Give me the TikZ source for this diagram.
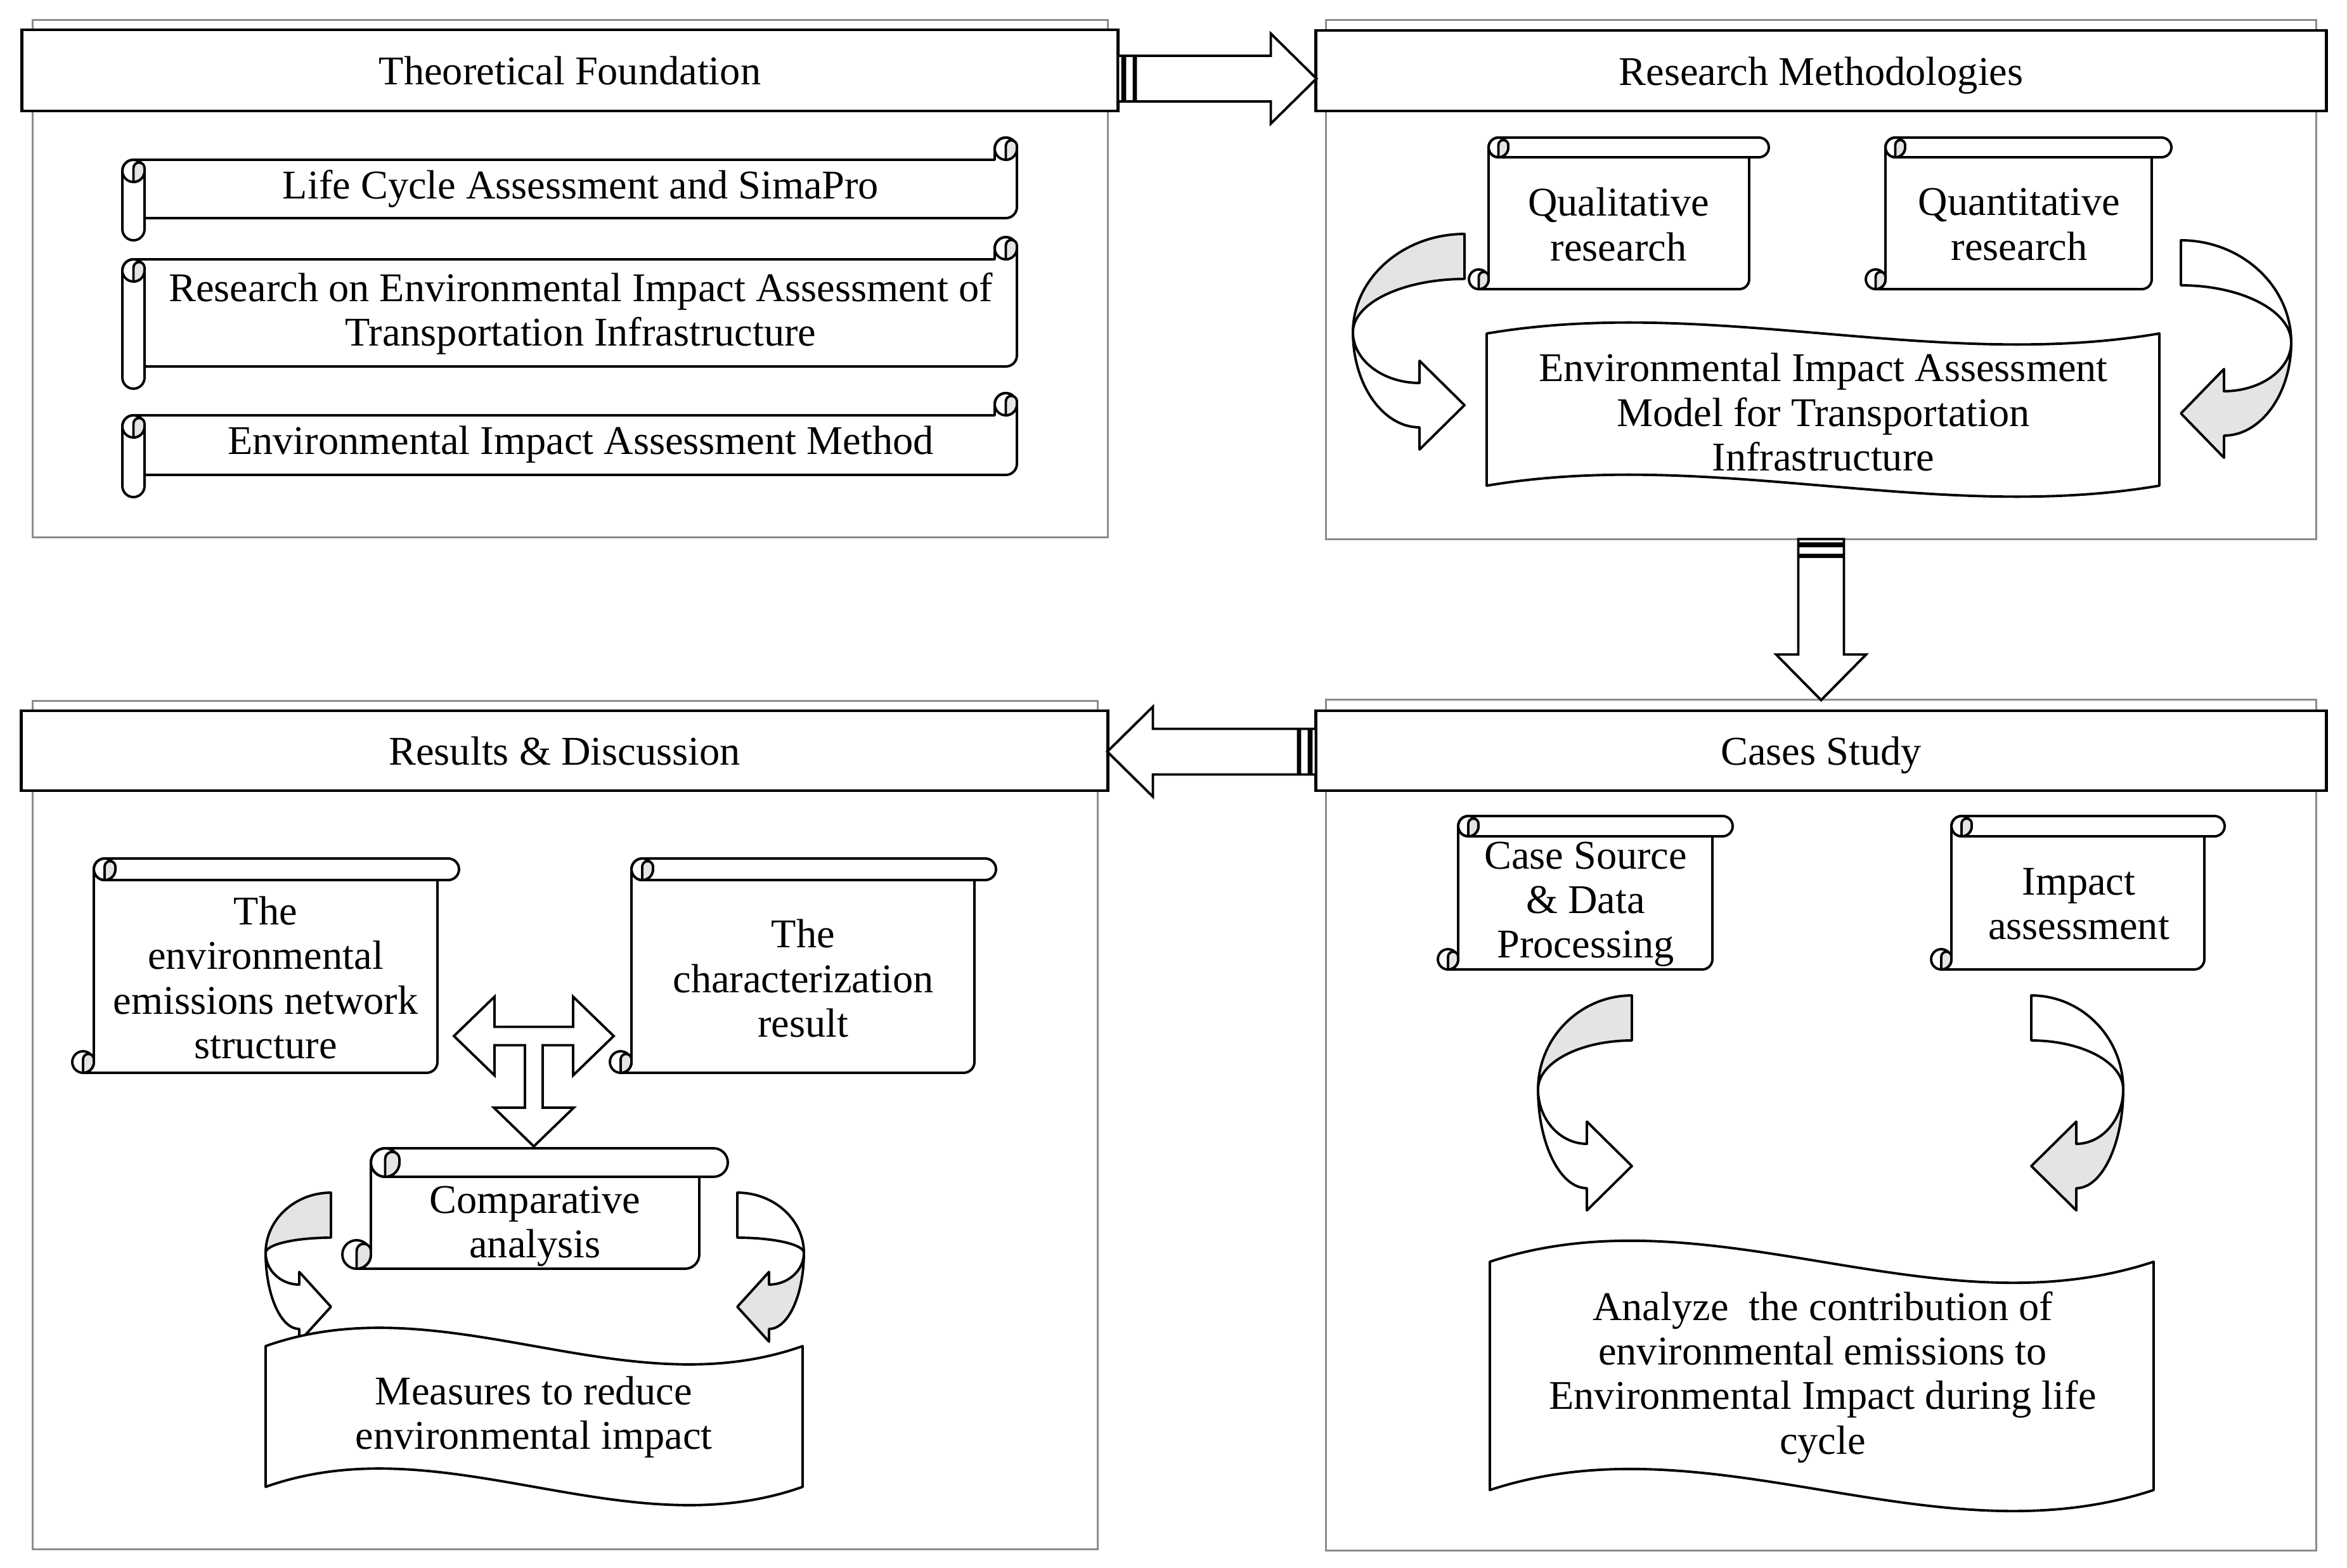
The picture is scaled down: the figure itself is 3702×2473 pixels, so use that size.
\documentclass[tikz,border=0pt]{standalone}
\usepackage{fontspec}
\setmainfont{Liberation Serif}
\usepackage{tikz}
\usetikzlibrary{calc}
\definecolor{curlgray}{HTML}{E3E5E5}
\definecolor{panelgray}{HTML}{8C8C8C}
% small rolled end of a scroll
\newcommand{\curl}[3]{%
  \draw[shapeline] ({#1},{#2}) circle[radius=#3/2];
  \filldraw[shapeline,fill=curlgray] ({#1},{#2+#3/2}) -- ({#1},{#2-#3/8})
    arc[start angle=180,end angle=360,radius=#3/4] -- ({#1+#3/2},{#2})
    arc[start angle=0,end angle=90,radius=#3/2] -- cycle;}
% horizontal scroll: x1,y1,x2,y2,roll
\newcommand{\hscroll}[5]{%
  \filldraw[shapeline,fill=white] ({#1+#5/2},{#2+#5}) -- ({#3-#5},{#2+#5}) -- ({#3-#5},{#2+#5/2})
    arc[start angle=180,end angle=360,radius=#5/2] -- (#3,{#4-1.5*#5})
    arc[start angle=0,end angle=90,radius=#5/2] -- ({#1+#5},{#4-#5}) -- cycle;
  \curl{#3-#5/2}{#2+#5/2}{#5}
  \filldraw[shapeline,fill=white] (#1,{#2+1.5*#5}) arc[start angle=180,end angle=360,radius=#5/2]
    -- ({#1+#5},{#4-#5/2}) arc[start angle=0,end angle=180,radius=#5/2] -- cycle;
  \curl{#1+#5/2}{#2+1.5*#5}{#5}}
% vertical scroll: x1,y1,x2,y2,roll
\newcommand{\vscroll}[5]{%
  \filldraw[shapeline,fill=white] ({#1+#5},{#2+#5/2}) -- ({#1+#5},{#4-#5/2})
    arc[start angle=0,end angle=90,radius=#5/2] -- ({#3-1.5*#5},#4)
    arc[start angle=90,end angle=0,radius=#5/2] -- ({#3-#5},{#2+#5}) -- cycle;
  \filldraw[shapeline,fill=white] ({#1+1.5*#5},#2) -- ({#3-#5/2},#2)
    arc[start angle=270,end angle=450,radius=#5/2] -- ({#1+1.5*#5},{#2+#5})
    arc[start angle=90,end angle=270,radius=#5/2] -- cycle;
  \curl{#1+1.5*#5}{#2+#5/2}{#5}
  \curl{#1+#5/2}{#4-#5/2}{#5}}
% wavy box: x1,top,x2,bottom,swing
\newcommand{\wavebox}[5]{%
  \filldraw[shapeline,fill=white] (#1,#2) .. controls ({(2*#1+#3)/3},{#2-#5}) and ({(#1+2*#3)/3},{#2+#5}) .. (#3,#2)
    -- (#3,#4) .. controls ({(#1+2*#3)/3},{#4+#5}) and ({(2*#1+#3)/3},{#4-#5}) .. (#1,#4) -- cycle;}
% curved ribbon arrow: x0,y0,dir,width,waist,head base,tip y,head half
\newcommand{\curvarrow}[8]{%
  \ifnum#3>0 \def\upfill{curlgray}\def\lowfill{white}\else\def\upfill{white}\def\lowfill{curlgray}\fi
  \begin{scope}[shift={(#1,#2)},xscale=#3]
    \filldraw[shapeline,fill=\upfill] (#4,0) .. controls ({0.45*#4},0) and (0,{0.45*#5}) .. (0,#5)
      .. controls (0,{#5-0.55*(#5-71)}) and ({0.45*#4},71) .. (#4,71) -- cycle;
    \filldraw[shapeline,fill=\lowfill] (0,#5) .. controls (0,{#5+0.55*(#7+35-#5)}) and ({0.45*#6},{#7+35}) .. (#6,{#7+35})
      -- (#6,{#7+#8}) -- (#4,#7) -- (#6,{#7-#8}) -- (#6,{#7-35})
      .. controls ({0.45*#6},{#7-35}) and (0,{#5+0.55*(#7-35-#5)}) .. (0,#5) -- cycle;
  \end{scope}}
% striped block arrow: start,rotation,length
\newcommand{\stripedarrow}[3]{%
  \filldraw[blockarrow,shift={(#1)},rotate=#2] (28,-36) -- ({#3-72},-36) -- ({#3-72},-71) -- (#3,0)
    -- ({#3-72},71) -- ({#3-72},36) -- (28,36) -- cycle
    (0,-36) rectangle (7,36) (11,-36) rectangle (25,36);}

\begin{document}
\begin{tikzpicture}[x=0.01cm,y=-0.01cm,
  panel/.style={draw=panelgray,line width=0.9pt,inner sep=0pt,outer sep=0pt},
  titlebox/.style={draw,fill=white,line width=1.2pt,inner sep=0pt,outer sep=0pt,
    font=\fontsize{18.3}{20}\selectfont,text height=13pt,text depth=0pt},
  shapeline/.style={draw=black,line width=1.1pt,line join=round},
  blockarrow/.style={draw=black,fill=white,line width=1.1pt,line join=miter},
  lbl/.style={font=\fontsize{18.3}{20}\selectfont,align=center,inner sep=0pt}]
  \useasboundingbox (0,0) rectangle (3702,2473);

  % panels
  \node[panel,minimum width=16.95cm,minimum height=8.15cm] (tfp) at (899.5,439.5) {};
  \node[panel,minimum width=15.61cm,minimum height=8.18cm] (rmp) at (2872.5,441) {};
  \node[panel,minimum width=16.79cm,minimum height=13.37cm] (rdp) at (891.5,1774.5) {};
  \node[panel,minimum width=15.61cm,minimum height=13.41cm] (csp) at (2872.5,1774.5) {};
  \node[titlebox,minimum width=17.28cm,minimum height=1.28cm] (tf) at (899,111) {Theoretical Foundation};
  \node[titlebox,minimum width=15.93cm,minimum height=1.27cm] (rm) at (2872.5,111.5) {Research Methodologies};
  \node[titlebox,minimum width=17.13cm,minimum height=1.26cm] (rd) at (890.5,1184) {Results \& Discussion};
  \node[titlebox,minimum width=15.93cm,minimum height=1.26cm] (cs) at (2872.5,1184) {Cases Study};

  % arrows between panels
  \coordinate (a1) at ($(tf.east)+(0,13)$);
  \coordinate (a3) at ($(cs.west)+(0,1.5)$);
  \stripedarrow{a1}{0}{313}
  \stripedarrow{rmp.south}{-90}{254}
  \stripedarrow{a3}{180}{329}

  % theoretical foundation
  \hscroll{193}{217}{1604}{379}{35}
  \hscroll{193}{374}{1604}{613}{35}
  \hscroll{193}{620}{1604}{784}{35}
  \node[lbl] (lca) at (916,298) {Life Cycle Assessment and SimaPro};
  \node[lbl] (eiat) at (916,495) {Research on Environmental Impact Assessment of\\Transportation Infrastructure};
  \node[lbl] (eiam) at (916,701) {Environmental Impact Assessment Method};

  % research methodologies
  \vscroll{2317}{217}{2790}{456}{31}
  \vscroll{2943}{217}{3425}{456}{31}
  \wavebox{2345}{526}{3406}{766}{60}
  \curvarrow{2134}{369}{1}{176}{155}{105}{270}{70}
  \curvarrow{3614}{379}{-1}{174}{161}{106}{273}{70}
  \node[lbl] (qual) at (2553,354) {Qualitative\\research};
  \node[lbl] (quant) at (3185,354) {Quantitative\\research};
  \node[lbl] (model) at (2876,650) {Environmental Impact Assessment\\Model for Transportation\\Infrastructure};

  % cases study
  \vscroll{2268}{1287}{2733}{1529}{32}
  \vscroll{3046}{1287}{3509}{1529}{32}
  \curvarrow{2426}{1570}{1}{148}{148}{77}{269}{70}
  \curvarrow{3349}{1570}{-1}{145}{148}{74}{269}{70}
  \wavebox{2350}{1990}{3397}{2350}{115}
  \node[lbl] (csrc) at (2501,1426) {Case Source\\\& Data\\Processing};
  \node[lbl] (impact) at (3279,1426) {Impact\\assessment};
  \node[lbl] (analyze) at (2875,2172) {Analyze\ \ the contribution of\\environmental emissions to\\Environmental Impact during life\\cycle};

  % results and discussion
  \vscroll{114}{1354}{724}{1692}{34}
  \vscroll{962}{1354}{1571}{1692}{34}
  \vscroll{540}{1811}{1148}{2001}{45}
  \coordinate (tee) at (842,1634);
  \filldraw[blockarrow,shift={(tee)}] (-126,0) -- (-62,-62) -- (-62,-14.5) -- (62,-14.5) -- (62,-62) -- (126,0)
    -- (62,62) -- (62,14.5) -- (14,14.5) -- (14,113) -- (63,113) -- (0,174) -- (-63,113) -- (-14,113)
    -- (-14,14.5) -- (-62,14.5) -- (-62,62) -- cycle;
  \curvarrow{419}{1881}{1}{103}{95}{53}{180}{55}
  \curvarrow{1268}{1881}{-1}{105}{95}{55}{180}{55}
  \wavebox{419}{2123}{1266}{2345}{100}
  \node[lbl] (emnet) at (419,1542) {The\\environmental\\emissions network\\structure};
  \node[lbl] (charres) at (1267,1543) {The\\characterization\\result};
  \node[lbl] (comp) at (844,1934) {Comparative\\analysis};
  \node[lbl] (measures) at (842,2235) {Measures to reduce\\environmental impact};
\end{tikzpicture}
\end{document}
